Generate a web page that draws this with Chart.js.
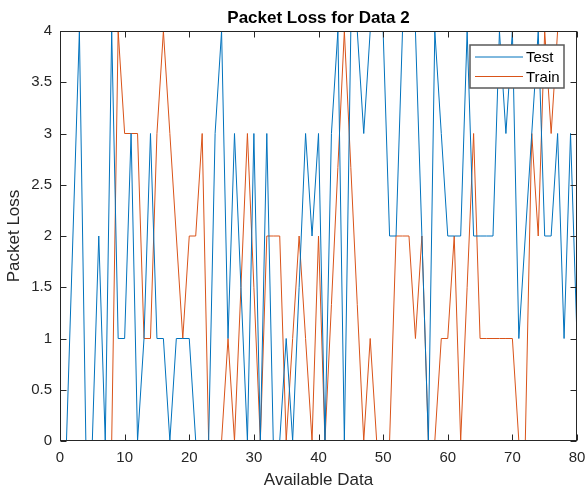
<!DOCTYPE html>
<html>
<head>
<meta charset="utf-8">
<script src="https://cdn.jsdelivr.net/npm/chart.js@4/dist/chart.umd.min.js"></script>
<style>
  html, body { margin: 0; padding: 0; background: #fff; }
  #wrap { width: 587px; height: 493px; position: relative; }
</style>
</head>
<body>
<div id="wrap"><canvas id="c" width="587" height="493"></canvas></div>
<script>
// ---- Data ----
const xValues = Array.from({length: 80}, (_, i) => i + 1); // sample index 1..80
const testLoss = [
  0, 2, 4, 0, 0, 2, 0, 4, 1, 1,
  3, 0, 1, 3, 1, 1, 0, 1, 1, 1,
  0, 0, 0, 3, 4, 1, 3, 1.5, 0, 3,
  0, 3, 0, 0, 1, 0, 1.5, 3, 2, 3,
  0, 3, 4, 0, 4, 4, 3, 4, 4, 4,
  2, 2, 4, 4, 4, 2, 0, 4, 3, 2,
  2, 2, 4, 2, 2, 2, 2, 4, 3, 4,
  1, 2, 3, 4, 2, 2, 3, 1, 3, 1
];
const trainLoss = [
  0, 0, 0, 0, 0, 0, 0, 0, 4, 3,
  3, 3, 1, 1, 3, 4, 3, 2, 1, 2,
  2, 3, 0, 0, 0, 1, 0, 1.5, 3, 1.5,
  0, 2, 2, 2, 0, 1, 2, 1, 0, 2,
  0, 1.33, 2.67, 4, 2.67, 1.33, 0, 1, 0, 0,
  0, 2, 2, 2, 1, 2, 0, 0, 1, 1,
  2, 0, 1.5, 3, 1, 1, 1, 1, 1, 1,
  0, 0, 3, 2, 4, 3, 4, 4, 4, 4
];
const seriesNames = ['Test', 'Train'];
const xTicks = [0, 10, 20, 30, 40, 50, 60, 70, 80];
const yTicks = [0, 0.5, 1, 1.5, 2, 2.5, 3, 3.5, 4];
const titleText = 'Packet Loss for Data 2';
const xLabel = 'Available Data';
const yLabel = 'Packet Loss';

const BLUE = '#0072BD';
const ORANGE = '#D95319';
const AXIS = '#262626';
const FONT = '"Liberation Sans", Arial, Helvetica, sans-serif';

// ---- Plugins: MATLAB-like box, inward ticks, title, legend ----
const matlabBox = {
  id: 'matlabBox',
  afterDraw(chart) {
    const {ctx, chartArea: a, scales: {x, y}} = chart;
    ctx.save();
    ctx.strokeStyle = AXIS;
    ctx.lineWidth = 1;
    const L = Math.round(a.left) + 0.5, R = Math.round(a.right) - 0.5;
    const T = Math.round(a.top) + 0.5, B = Math.round(a.bottom) - 0.5;
    ctx.strokeRect(L, T, R - L, B - T);
    const tl = 6;
    ctx.beginPath();
    xTicks.forEach(v => {
      const px = Math.round(x.getPixelForValue(v)) + 0.5;
      ctx.moveTo(px, B); ctx.lineTo(px, B - tl);
      ctx.moveTo(px, T); ctx.lineTo(px, T + tl);
    });
    yTicks.forEach(v => {
      const py = Math.round(y.getPixelForValue(v)) + 0.5;
      ctx.moveTo(L, py); ctx.lineTo(L + tl, py);
      ctx.moveTo(R, py); ctx.lineTo(R - tl, py);
    });
    ctx.stroke();

    // title
    ctx.fillStyle = '#000';
    ctx.font = 'bold 17px ' + FONT;
    ctx.textAlign = 'center';
    ctx.textBaseline = 'alphabetic';
    ctx.fillText(titleText, (a.left + a.right) / 2, a.top - 8);

    // legend
    const lw = 94, lh = 43;
    const lx = a.right - 13 - lw, ly = a.top + 14;
    ctx.fillStyle = '#fff';
    ctx.fillRect(lx, ly, lw, lh);
    ctx.strokeStyle = '#5a5a5a';
    ctx.lineWidth = 1.5;
    ctx.strokeRect(lx, ly, lw, lh);
    const colors = [BLUE, ORANGE];
    ctx.font = '15px ' + FONT;
    ctx.textAlign = 'left';
    ctx.textBaseline = 'middle';
    seriesNames.forEach((n, i) => {
      const yy = ly + 12 + i * 19.5;
      ctx.strokeStyle = colors[i];
      ctx.lineWidth = 1;
      ctx.beginPath();
      ctx.moveTo(lx + 5, yy); ctx.lineTo(lx + 53, yy);
      ctx.stroke();
      ctx.fillStyle = '#000';
      ctx.fillText(n, lx + 56, yy + 1);
    });
    ctx.restore();
  }
};

const ctx = document.getElementById('c').getContext('2d');
new Chart(ctx, {
  type: 'line',
  data: {
    datasets: [
      {
        label: seriesNames[0],
        data: xValues.map((xv, i) => ({x: xv, y: testLoss[i]})),
        borderColor: BLUE,
        backgroundColor: BLUE,
        borderWidth: 1,
        pointRadius: 0,
        tension: 0,
        fill: false
      },
      {
        label: seriesNames[1],
        data: xValues.map((xv, i) => ({x: xv, y: trainLoss[i]})),
        borderColor: ORANGE,
        backgroundColor: ORANGE,
        borderWidth: 1,
        pointRadius: 0,
        tension: 0,
        fill: false
      }
    ]
  },
  options: {
    responsive: false,
    animation: false,
    devicePixelRatio: 1,
    layout: { padding: { top: 31, right: 10, left: 0, bottom: 0 } },
    plugins: {
      legend: { display: false },
      title: { display: false },
      tooltip: { enabled: false }
    },
    scales: {
      x: {
        type: 'linear',
        min: 0, max: 80,
        afterBuildTicks: s => { s.ticks = xTicks.map(v => ({value: v})); },
        afterFit: s => { s.height = 52; s.paddingLeft = 0; s.paddingRight = 0; },
        grid: { display: false, drawTicks: false },
        border: { display: false },
        ticks: {
          padding: 8,
          color: AXIS,
          font: { family: FONT, size: 15 },
          maxRotation: 0,
          callback: v => String(v)
        },
        title: {
          display: true,
          text: xLabel,
          color: AXIS,
          font: { family: FONT, size: 17 },
          padding: { top: 0, bottom: 2 }
        }
      },
      y: {
        type: 'linear',
        min: 0, max: 4,
        afterBuildTicks: s => { s.ticks = yTicks.map(v => ({value: v})); },
        afterFit: s => { s.width = 60; s.paddingTop = 0; s.paddingBottom = 0; },
        grid: { display: false, drawTicks: false },
        border: { display: false },
        ticks: {
          padding: 8,
          color: AXIS,
          font: { family: FONT, size: 15 },
          callback: v => String(v)
        },
        title: {
          display: true,
          text: yLabel,
          color: AXIS,
          font: { family: FONT, size: 17 },
          padding: { top: 4.5, bottom: 0 }
        }
      }
    }
  },
  plugins: [matlabBox]
});
</script>
</body>
</html>
